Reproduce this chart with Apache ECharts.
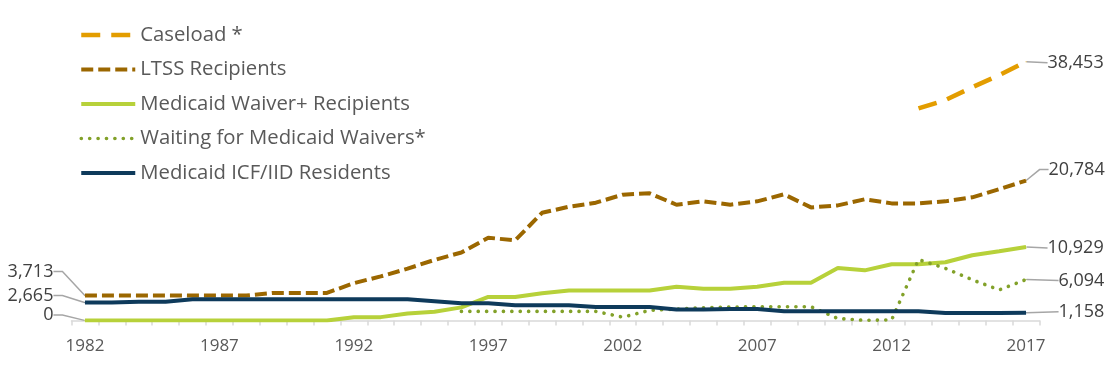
<!DOCTYPE html>
<html><head><meta charset="utf-8">
<script src="https://cdn.jsdelivr.net/npm/echarts@6/dist/echarts.min.js"></script>
<style>html,body{margin:0;padding:0;background:#fff}#c{width:1112px;height:365px}</style>
</head><body><div id="c"></div>
<script>
const years = ['1982','1983','1984','1985','1986','1987','1988','1989','1990','1991','1992','1993','1994','1995','1996','1997','1998','1999','2000','2001','2002','2003','2004','2005','2006','2007','2008','2009','2010','2011','2012','2013','2014','2015','2016','2017'];
const caseload = [null,null,null,null,null,null,null,null,null,null,null,null,null,null,null,null,null,null,null,null,null,null,null,null,null,null,null,null,null,null,null,31500,32750,34650,36450,38453];
const ltss = [3713,3713,3713,3713,3713,3713,3713,4100,4100,4100,5550,6550,7700,9000,10100,12300,11900,16000,16900,17500,18700,18900,17200,17700,17200,17700,18750,16800,17100,18000,17400,17400,17700,18300,19500,20784];
const waiver = [0,0,0,0,0,0,0,0,0,0,480,500,1050,1300,1950,3500,3500,4050,4450,4450,4450,4450,5000,4700,4700,5000,5600,5600,7800,7450,8350,8350,8650,9700,10300,10929];
const waiting = [null,null,null,null,null,null,null,null,null,null,null,null,null,null,1350,1350,1350,1350,1350,1350,500,1500,1700,1900,2000,2050,2050,2050,300,30,80,9050,7750,6050,4550,6094];
const icf = [2665,2665,2800,2800,3150,3150,3150,3150,3150,3150,3150,3150,3150,2850,2550,2550,2250,2250,2250,2000,2000,2000,1650,1650,1700,1700,1380,1380,1380,1380,1380,1380,1100,1100,1100,1158];
const names = ['Caseload *','LTSS Recipients','Medicaid Waiver+ Recipients','Waiting for Medicaid Waivers*','Medicaid ICF/IID Residents'];

const FONT = 'Open Sans';
const last = years.length - 1;

const styles = [
  { color: '#E39D00', width: 4.5, type: [19, 11] },
  { color: '#9B6700', width: 4, type: [12, 5] },
  { color: '#B7D13A', width: 4, type: 'solid' },
  { color: '#82A129', width: 3.6, type: [0.1, 8.3], cap: 'round' },
  { color: '#0E3A5B', width: 4, type: 'solid' }
];

function mk(idx, values, labels) {
  const st = styles[idx];
  return {
    name: names[idx], type: 'line', symbol: 'none', showAllSymbol: true,
    connectNulls: false, silent: true,
    lineStyle: Object.assign({}, st),
    itemStyle: { color: st.color },
    data: values.map(function (v, i) {
      const l = labels[i];
      if (!l) return v;
      return {
        value: v, symbol: 'circle', symbolSize: 1,
        label: {
          show: true, position: l.side, distance: 5,
          color: '#404040', fontFamily: FONT, fontSize: 18,
          padding: [0, 6, 0, 6],
          formatter: function (p) { return Number(p.value).toLocaleString('en-US'); }
        },
        labelLine: { show: true, length2: l.len || 0, smooth: false, lineStyle: { color: '#A6A6A6', width: 1.5 } }
      };
    }),
    labelLayout: function (p) {
      const l = labels[p.dataIndex];
      return l ? { dx: l.dx, dy: l.dy } : {};
    }
  };
}

const series = [
  mk(0, caseload, { [last]: { side: 'right', dx: 10, dy: 1, len: 0 } }),
  mk(1, ltss, { 0: { side: 'left', dx: -20, dy: -24, len: 9 }, [last]: { side: 'right', dx: 11, dy: -11, len: 9 } }),
  mk(2, waiver, { 0: { side: 'left', dx: -20, dy: -5.5, len: 9 }, [last]: { side: 'right', dx: 10, dy: 1, len: 0 } }),
  mk(3, waiting, { [last]: { side: 'right', dx: 21, dy: 1, len: 0 } }),
  mk(4, icf, { 0: { side: 'left', dx: -20, dy: -7, len: 9 }, [last]: { side: 'right', dx: 21, dy: -1, len: 0 } })
];

const chart = echarts.init(document.getElementById('c'), null, { renderer: 'canvas' });
chart.setOption({
  animation: false,
  backgroundColor: '#ffffff',
  grid: { left: 71.5, right: 72.5, top: 17.6, bottom: 44.5, containLabel: false, outerBoundsMode: 'none' },
  legend: {
    orient: 'vertical', left: 79, top: 25, padding: 0,
    itemWidth: 54, itemHeight: 14, itemGap: 14.5,
    itemStyle: { opacity: 0 },
    textStyle: { fontFamily: FONT, fontSize: 20.3, color: '#595959', lineHeight: 20 },
    data: names.map(function (n, i) {
      return { name: n, lineStyle: { width: styles[i].width, type: styles[i].type, cap: styles[i].cap || 'butt', color: styles[i].color } };
    })
  },
  xAxis: {
    type: 'category', data: years, boundaryGap: true, offset: 2.5,
    axisLine: { lineStyle: { color: '#D9D9D9', width: 1.5 } },
    axisTick: { show: true, interval: 0, length: 5, lineStyle: { color: '#D9D9D9', width: 1.5 } },
    axisLabel: { interval: 4, color: '#595959', fontFamily: FONT, fontSize: 17, margin: 15 },
    splitLine: { show: false }
  },
  yAxis: {
    type: 'value', min: 0, max: 45000, show: false, splitLine: { show: false }
  },
  series: series
});
</script>
</body></html>
